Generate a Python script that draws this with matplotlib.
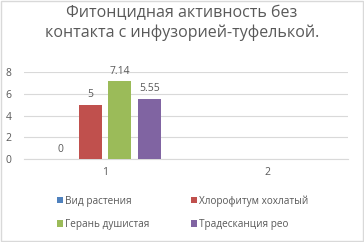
import matplotlib.pyplot as plt
import numpy as np

categories = ["1", "2"]
series_names = ["Вид растения", "Хлорофитум хохлатый", "Герань душистая", "Традесканция рео"]
values_cat1 = [0, 5, 7.14, 5.55]
value_labels = ["0", "5", "7.14", "5.55"]
colors = ["#4f81bd", "#c0504d", "#9bbb59", "#8064a2"]

plt.rcParams["font.family"] = ["Open Sans", "DejaVu Sans"]
TXT = "#595959"
GRID = "#d9d9d9"

fig = plt.figure(figsize=(3.64, 2.42), dpi=100)
ax = fig.add_axes([0.066, 0.343, 0.890, 0.359])

x = np.arange(1, len(categories) + 1)
width = 0.142
step = 0.182
handles = []
for i, (name, v, lab, c) in enumerate(zip(series_names, values_cat1, value_labels, colors)):
    pos = x[0] + (i - 1.5) * step
    b = ax.bar(pos, v, width, color=c, label=name, zorder=3)
    handles.append(b)
    ax.text(pos, v + 0.4, lab, ha="center", va="bottom", fontsize=7.5, color=TXT)

ax.set_xlim(0.5, 2.5)
ax.set_ylim(0, 8)
ax.set_yticks([0, 2, 4, 6, 8])
ax.set_xticks(x)
ax.set_xticklabels(categories)
ax.tick_params(axis="both", length=0, labelsize=7.5, colors=TXT)
ax.tick_params(axis="y", pad=9)
ax.tick_params(axis="x", pad=6)
ax.grid(axis="y", color=GRID, linewidth=0.8, zorder=0)
for s in ["top", "right", "left"]:
    ax.spines[s].set_visible(False)
ax.spines["bottom"].set_color(GRID)

fig.text(0.5, 0.905, "Фитонцидная активность без\nконтакта с инфузорией-туфелькой.",
         ha="center", va="center", fontsize=11.5, color=TXT, linespacing=1.25)

# legend fills row by row in the reference
order = [0, 2, 1, 3]
fig.legend(handles=[handles[i] for i in order], labels=[series_names[i] for i in order],
           loc="upper left", bbox_to_anchor=(0.145, 0.21), ncol=2, frameon=False,
           fontsize=7.2, labelcolor=TXT, handlelength=0.6, handleheight=0.6,
           handletextpad=0.2, columnspacing=4.2, labelspacing=1.25, borderaxespad=0)

fig.patches.append(plt.Rectangle((0.002, 0.003), 0.995, 0.993, transform=fig.transFigure,
                                 fill=False, edgecolor=GRID, linewidth=1))

fig.savefig("out.png", dpi=100)
